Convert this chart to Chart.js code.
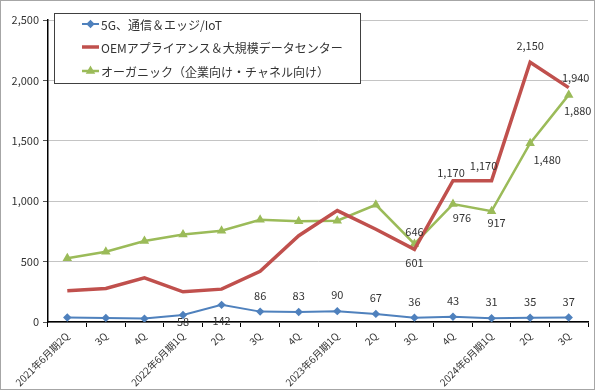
<!DOCTYPE html>
<html>
<head>
<meta charset="utf-8">
<script src="https://cdn.jsdelivr.net/npm/chart.js@4/dist/chart.umd.min.js"></script>
<style>
html,body{margin:0;padding:0;background:#fff;}
#wrap{position:relative;width:600px;height:391px;}
</style>
</head>
<body>
<div id="wrap"><canvas id="c" width="600" height="391"></canvas></div>
<script>
const categories = ['2021年6月期2Q','3Q','4Q','2022年6月期1Q','2Q','3Q','4Q','2023年6月期1Q','2Q','3Q','4Q','2024年6月期1Q','2Q','3Q'];
const seriesNames = ['5G、通信＆エッジ/IoT','OEMアプライアンス＆大規模データセンター','オーガニック（企業向け・チャネル向け）'];
const iotValues = [37, 34, 28, 58, 142, 86, 83, 90, 67, 36, 43, 31, 35, 37];
const oemValues = [258, 278, 366, 250, 272, 420, 714, 922, 768, 601, 1170, 1170, 2150, 1940];
const organicValues = [528, 581, 671, 725, 755, 846, 833, 838, 970, 646, 976, 917, 1480, 1880];
const yTicks = [0, 500, 1000, 1500, 2000, 2500];

// which points carry a value label, and where (offset in px from the point)
const labelPlacement = [
  {3:[0,7],4:[0,16],5:[0,-16],6:[0,-16],7:[0,-16],8:[0,-16],9:[0,-16],10:[0,-16],11:[0,-16],12:[0,-16],13:[0,-16]},
  {9:[0,13],10:[-2,-8],11:[-8,-15],12:[0,-16],13:[7,-10]},
  {9:[0,-12],10:[9,14],11:[5,12],12:[17,17],13:[9,16]}
];

const FONT = '"Noto Sans CJK JP","Noto Sans",sans-serif';
const TXT = '#333333';
const colors = ['#4F81BD', '#C0504D', '#9BBB59'];

const labelsPlugin = {
  id: 'valueLabels',
  afterDatasetsDraw(chart) {
    const ctx = chart.ctx;
    ctx.save();
    ctx.font = '11px ' + FONT;
    ctx.fillStyle = TXT;
    ctx.textAlign = 'center';
    ctx.textBaseline = 'middle';
    chart.data.datasets.forEach((ds, di) => {
      const meta = chart.getDatasetMeta(di);
      const place = labelPlacement[di];
      Object.keys(place).forEach(k => {
        const i = +k;
        const p = meta.data[i];
        const off = place[k];
        ctx.fillText(ds.data[i].toLocaleString('en-US'), p.x + off[0], p.y + off[1]);
      });
    });
    ctx.restore();
  },
  afterDraw(chart) {
    const ctx = chart.ctx;
    ctx.save();
    const bx = 54.5, by = 13.5, bw = 306, bh = 70;
    ctx.fillStyle = '#fff';
    ctx.fillRect(bx, by, bw, bh);
    ctx.strokeStyle = '#404040';
    ctx.lineWidth = 1;
    ctx.strokeRect(bx, by, bw, bh);
    const rows = [24, 47, 71];
    ctx.font = '12px ' + FONT;
    ctx.textBaseline = 'middle';
    ctx.textAlign = 'left';
    chart.data.datasets.forEach((ds, i) => {
      const y = rows[i];
      ctx.strokeStyle = ds.borderColor;
      ctx.lineWidth = ds.borderWidth;
      ctx.beginPath();
      ctx.moveTo(82, y);
      ctx.lineTo(99, y);
      ctx.stroke();
      if (ds.pointStyle && ds.pointRadius > 0) {
        ctx.fillStyle = ds.pointBackgroundColor;
        ctx.strokeStyle = ds.pointBorderColor;
        Chart.helpers.drawPoint(ctx, {pointStyle: ds.pointStyle, radius: ds.pointRadius, borderWidth: 1, rotation: 0}, 90.5, y);
      }
      ctx.fillStyle = TXT;
      ctx.fillText(ds.label, 101, y + 1);
    });
    ctx.strokeStyle = '#a6a6a6';
    ctx.lineWidth = 1;
    ctx.strokeRect(0.5, 0.5, 594, 389);
    ctx.restore();
  }
};

new Chart(document.getElementById('c'), {
  type: 'line',
  data: {
    labels: categories,
    datasets: [
      {label: seriesNames[0], data: iotValues, borderColor: colors[0], backgroundColor: colors[0],
       borderWidth: 2, pointStyle: 'rectRot', pointRadius: 2.8, pointBackgroundColor: colors[0], pointBorderColor: colors[0], tension: 0},
      {label: seriesNames[1], data: oemValues, borderColor: colors[1], backgroundColor: colors[1],
       borderWidth: 3.5, pointStyle: false, pointRadius: 0, tension: 0},
      {label: seriesNames[2], data: organicValues, borderColor: colors[2], backgroundColor: colors[2],
       borderWidth: 2.5, pointStyle: 'triangle', pointRadius: 3, pointBackgroundColor: colors[2], pointBorderColor: colors[2], tension: 0}
    ]
  },
  options: {
    responsive: false,
    animation: false,
    devicePixelRatio: 1,
    layout: {padding: {left: 0, right: 12, top: 20, bottom: 0}},
    plugins: {legend: {display: false}, tooltip: {enabled: false}},
    scales: {
      x: {
        offset: true,
        grid: {display: true, drawOnChartArea: false, drawTicks: true, tickLength: 5, tickColor: '#000', offset: true},
        border: {display: true, color: '#000', width: 1.5},
        ticks: {autoSkip: false, maxRotation: 45, minRotation: 45, color: TXT, font: {family: FONT, size: 10}, padding: 3},
        afterFit(scale) { scale.height = 69; }
      },
      y: {
        min: 0, max: 2500,
        afterBuildTicks(scale) { scale.ticks = yTicks.map(v => ({value: v})); },
        grid: {color: '#c4c4c4', lineWidth: 1, drawTicks: true, tickLength: 5, tickColor: '#555'},
        border: {display: true, color: '#000', width: 1.5},
        ticks: {color: TXT, font: {family: FONT, size: 11}, padding: 4,
                callback: v => v.toLocaleString('en-US')},
        afterFit(scale) { scale.width = 48; }
      }
    }
  },
  plugins: [labelsPlugin]
});
</script>
</body>
</html>
